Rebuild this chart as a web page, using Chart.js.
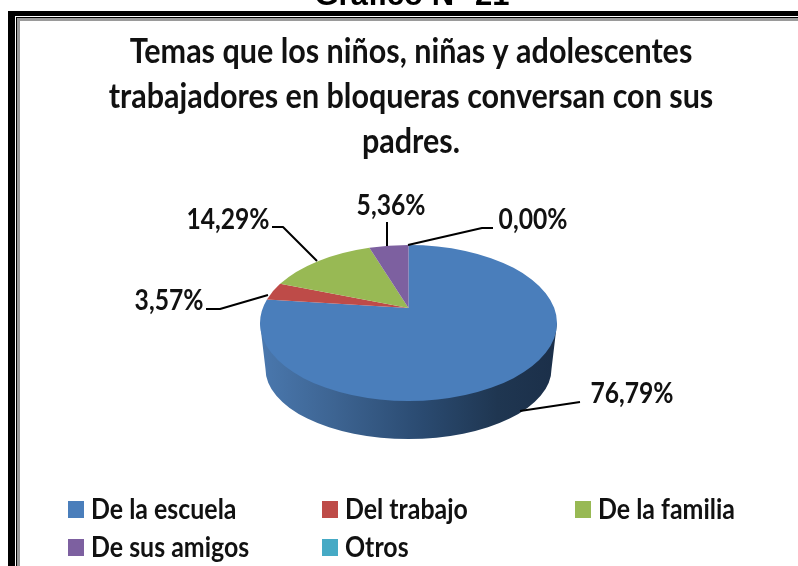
<!DOCTYPE html>
<html><head><meta charset="utf-8">
<style>html,body{margin:0;padding:0;background:#fff}#w{position:absolute;left:0;top:0;width:798px;height:566px}</style>
<script src="https://cdn.jsdelivr.net/npm/chart.js@4"></script>
</head><body><div id="w"><canvas id="c" width="798" height="566"></canvas></div>
<script>
const categories = ["De la escuela","Del trabajo","De la familia","De sus amigos","Otros"];
const values = [76.79,3.57,14.29,5.36,0.00];
const colors = ["#4a7ebb","#be4b48","#98b954","#7d60a0","#46aac5"];
const titleLines = ["Temas que los niños, niñas y adolescentes","trabajadores en bloqueras conversan con sus","padres."];
const heading = "Gráfico N° 21";

const FONT = "Lato";
const top3d = {cx:408.5, cy:323, rx:148.5, ry:78, ax:408.5, ay:308, k:80};
const bottom3d = {cx:408.5, cy:369, rx:143, ry:70};
const leaders = [
  {text:[632,394], pts:[[580,402],[520,411]]},
  {text:[169,301], pts:[[206,309],[220,309],[268,295]]},
  {text:[228,220], pts:[[272,227],[283,227],[317,261]]},
  {text:[391,206], pts:[[387,222],[387,246]]},
  {text:[533,220], pts:[[493,228],[482,228],[408,245]]}
];
const legendPos = [[68,509],[322,509],[575,509],[68,547],[322,547]];

function fmt(v){return v.toFixed(2).replace('.',',')+'%';}
function sText(ctx,s,x,y,align,sx){
  ctx.save();ctx.translate(x,y);ctx.scale(sx,1);
  ctx.font="bold 28px "+FONT;ctx.textBaseline="middle";ctx.textAlign=align;
  ctx.fillText(s,0,0);ctx.restore();
}
function paramAngle(theta){
  const g=top3d, dx=Math.cos(theta)*g.rx, dy=Math.sin(theta)*g.k;
  const ox=g.ax-g.cx, oy=g.ay-g.cy;
  const A=dx*dx/(g.rx*g.rx)+dy*dy/(g.ry*g.ry);
  const B=2*(ox*dx/(g.rx*g.rx)+oy*dy/(g.ry*g.ry));
  const C=ox*ox/(g.rx*g.rx)+oy*oy/(g.ry*g.ry)-1;
  const t=(-B+Math.sqrt(B*B-4*A*C))/(2*A);
  return Math.atan2((oy+t*dy)/g.ry,(ox+t*dx)/g.rx);
}
const pie3d = {
  id:'pie3d',
  afterLayout(chart){
    const tb=chart.titleBlock;
    if(tb && !tb._wrapped){
      const d=tb.draw;
      tb.draw=function(){
        const ctx=chart.ctx;
        ctx.save();ctx.translate(411,0);ctx.scale(0.897,1);ctx.translate(-399,0);
        d.call(this);ctx.restore();
      };
      tb._wrapped=true;
    }
  },
  beforeDatasetsDraw(chart){
    const ctx=chart.ctx, arcs=chart.getDatasetMeta(0).data, t=top3d, b=bottom3d;
    ctx.save();
    const grad=ctx.createLinearGradient(t.cx-t.rx,0,t.cx+t.rx,0);
    grad.addColorStop(0,"#4a78ae");grad.addColorStop(0.25,"#3d6492");
    grad.addColorStop(0.55,"#2a4a70");grad.addColorStop(0.8,"#1f3651");grad.addColorStop(1,"#1b2f49");
    ctx.fillStyle=grad;
    ctx.beginPath();
    ctx.moveTo(t.cx-t.rx,t.cy);
    ctx.lineTo(b.cx-b.rx,b.cy);
    ctx.ellipse(b.cx,b.cy,b.rx,b.ry,0,Math.PI,0,true);
    ctx.lineTo(t.cx+t.rx,t.cy);
    ctx.closePath();ctx.fill();
    arcs.forEach((arc,i)=>{
      if(values[i]<=0) return;
      const a0=paramAngle(arc.startAngle), a1=paramAngle(arc.endAngle);
      ctx.fillStyle=colors[i];
      ctx.beginPath();
      ctx.moveTo(t.ax,t.ay);
      ctx.ellipse(t.cx,t.cy,t.rx,t.ry,0,a0,a1,false);
      ctx.closePath();ctx.fill();
    });
    ctx.restore();
    return false;
  },
  afterDraw(chart){
    const ctx=chart.ctx;
    ctx.save();
    // frame
    ctx.fillStyle="#000";
    ctx.fillRect(8,11,790,5);ctx.fillRect(8,11,7,555);
    ctx.fillRect(16,17,782,1);ctx.fillRect(16,17,1,549);
    ctx.fillStyle="#9a9a9a";
    ctx.fillRect(17,18,781,3);ctx.fillRect(17,18,3,548);
    // heading
    ctx.fillStyle="#000";ctx.textAlign="center";ctx.textBaseline="alphabetic";
    ctx.font="bold 31px 'Liberation Sans'";
    ctx.fillText(heading,412,5);
    // leaders
    ctx.strokeStyle="#000";ctx.lineWidth=2;ctx.lineJoin="round";
    leaders.forEach((l,i)=>{
      ctx.beginPath();l.pts.forEach((p,j)=>j?ctx.lineTo(p[0],p[1]):ctx.moveTo(p[0],p[1]));ctx.stroke();
      ctx.fillStyle="#111";
      sText(ctx,fmt(values[i]),l.text[0],l.text[1],"center",0.88);
    });
    // legend
    categories.forEach((c,i)=>{
      const p=legendPos[i];
      ctx.fillStyle=colors[i];ctx.fillRect(p[0],p[1]-8,16,17);
      ctx.fillStyle="#111";
      sText(ctx,c,p[0]+23,p[1]+1,"left",0.89);
    });
    ctx.restore();
  }
};
new Chart(document.getElementById('c'),{
  type:'pie',
  data:{labels:categories,datasets:[{data:values,backgroundColor:colors,borderWidth:0}]},
  options:{
    responsive:false,animation:false,
    layout:{padding:{top:22,left:0,right:0,bottom:126}},
    plugins:{
      legend:{display:false},tooltip:{enabled:false},
      title:{display:true,text:titleLines,color:"#111",align:"center",
        font:{family:FONT,size:34,weight:"bold",lineHeight:1.33},padding:{top:7,bottom:0}}
    }
  },
  plugins:[pie3d]
});
</script></body></html>
